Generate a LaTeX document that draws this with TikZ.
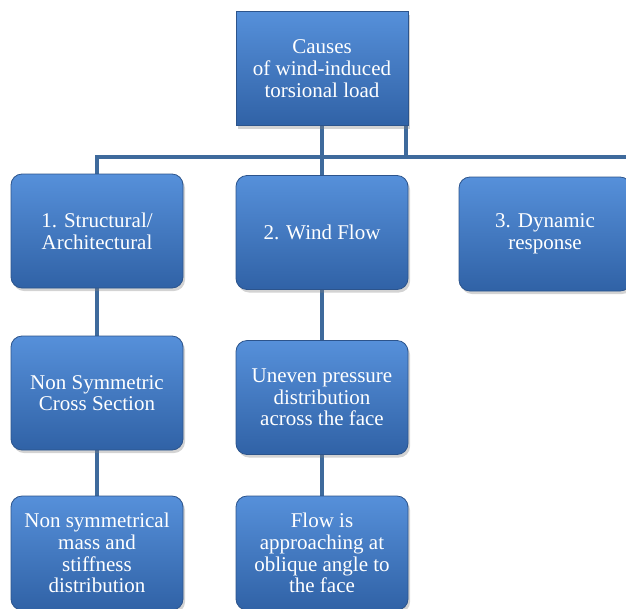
\documentclass[tikz,border=0pt]{standalone}
\usepackage{fontspec}
\setmainfont{Liberation Serif}
\usetikzlibrary{shadows,backgrounds}

\definecolor{barblue}{RGB}{62,106,156}
\definecolor{boxtop}{RGB}{86,144,218}
\definecolor{boxbot}{RGB}{48,98,166}
\definecolor{boxedge}{RGB}{44,84,140}

\tikzset{
  cause/.style={draw=boxedge, line width=0.8pt, top color=boxtop, bottom color=boxbot,
    minimum width=172pt, minimum height=114pt, text=white, align=center, inner sep=3pt,
    font=\fontsize{21}{21.7}\selectfont,
    drop shadow={shadow xshift=2pt, shadow yshift=-3pt, opacity=0.35}},
  round/.style={cause, rounded corners=11pt},
  bar/.style={draw=barblue, line width=4pt}
}

\begin{document}
\begin{tikzpicture}[x=1pt, y=-1pt]
\useasboundingbox (0,0) rectangle (626,608);
\clip (0,0) rectangle (626,608);

% top box
\node[cause] (root) at (322,68.5) {Causes\\of wind-induced\\torsional load};

% first level
\node[round] (struct) at (97,231)    {1. Structural/\\Architectural};
\node[round] (wind)   at (322,232.5) {2. Wind Flow};
\node[round] (dyn)    at (545,234)   {3. Dynamic\\response};

% second and third level
\node[round] (sect)  at (97,393)    {Non Symmetric\\Cross Section};
\node[round] (press) at (322,397.5) {Uneven pressure\\distribution\\across the face};
\node[round] (mass)  at (97,553)    {Non symmetrical\\mass and\\stiffness\\distribution};
\node[round] (flow)  at (322,553)   {Flow is\\approaching at\\oblique angle to\\the face};

\coordinate (busR) at (626,157);

\begin{scope}[on background layer]
\draw[bar] (root.south) -- (wind.north);
\draw[bar] (struct.north) |- (busR);
\draw[bar] ([xshift=-2pt]root.south east) |- (busR);
\draw[bar] (struct.south) -- (sect.north);
\draw[bar] (sect.south) -- (mass.north);
\draw[bar] (wind.south) -- (press.north);
\draw[bar] (press.south) -- (flow.north);
\end{scope}
\end{tikzpicture}
\end{document}
